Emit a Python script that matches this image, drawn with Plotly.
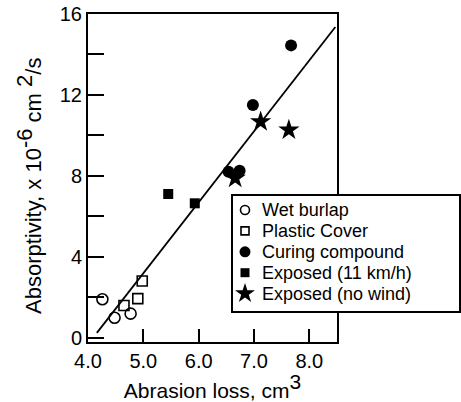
import plotly.graph_objects as go

# ---- data ----
wet_x = [4.26, 4.48, 4.77]
wet_y = [1.91, 1.0, 1.2]
plastic_x = [4.65, 4.90, 4.98]
plastic_y = [1.6, 1.94, 2.81]
curing_x = [6.54, 6.74, 6.98, 7.67]
curing_y = [8.21, 8.26, 11.51, 14.45]
exp11_x = [5.45, 5.93]
exp11_y = [7.11, 6.65]
nowind_x = [6.66, 7.12, 7.63]
nowind_y = [7.89, 10.68, 10.27]
fit_x = [4.16, 8.47]
fit_y = [0.25, 15.36]

series_names = ["Wet burlap", "Plastic Cover", "Curing compound",
                "Exposed (11 km/h)", "Exposed (no wind)"]

x_ticks = [4.0, 5.0, 6.0, 7.0, 8.0]
y_ticks = [0, 2, 4, 6, 8, 10, 12, 14, 16]
y_ticklabels = ["0", "", "4", "", "8", "", "12", "", "16"]

# ---- styles / layout ----
FONT = "Liberation Sans, Arial, sans-serif"
W, H = 461, 402
PL, PR, PT, PB = 88, 337, 14, 342          # plot box in pixels
symbols = ["circle-open", "square-open", "circle", "square", "star"]
plot_sizes = [11, 10, 12, 10, 16]
legend_sizes = [9, 8, 11, 9, 15]

# manual legend box (pixel layout)
LG_L, LG_R, LG_T, LG_B = 232, 460, 195, 312
LG_ROW0, LG_STEP = 210, 20.9
LG_SYM_X, LG_TXT_X = 245, 260

series_x = [wet_x, plastic_x, curing_x, exp11_x, nowind_x]
series_y = [wet_y, plastic_y, curing_y, exp11_y, nowind_y]

fig = go.Figure()
fig.add_trace(go.Scatter(x=fit_x, y=fit_y, mode="lines",
                         line=dict(color="black", width=1.8), showlegend=False))
for name, xs, ys, sym, sz in zip(series_names, series_x, series_y, symbols, plot_sizes):
    fig.add_trace(go.Scatter(x=xs, y=ys, mode="markers", name=name, showlegend=False,
                             marker=dict(symbol=sym, size=sz, color="black",
                                         line=dict(width=1.6 if "open" in sym else 0,
                                                   color="black"))))

# legend swatches on a full-page helper axis
annotations = []
for i, (name, sym, sz) in enumerate(zip(series_names, symbols, legend_sizes)):
    yy = LG_ROW0 + i * LG_STEP
    fig.add_trace(go.Scatter(x=[LG_SYM_X], y=[yy], xaxis="x2", yaxis="y2",
                             mode="markers", showlegend=False, hoverinfo="skip",
                             marker=dict(symbol=sym, size=sz, color="black",
                                         line=dict(width=1.6 if "open" in sym else 0,
                                                   color="black"))))
    annotations.append(dict(text=name, xref="x2", yref="y2", x=LG_TXT_X, y=yy,
                            xanchor="left", yanchor="middle", showarrow=False,
                            font=dict(size=18)))

annotations.append(dict(
    text='Absorptivity, x 10<sup><span style="font-size:22px">-6</span></sup> cm <sup><span style="font-size:22px">2</span></sup>/s',
    xref="x2", yref="y2", x=29, y=186, xanchor="center", yanchor="middle",
    textangle=-90, showarrow=False, font=dict(size=22)))

fig.update_layout(
    width=W, height=H,
    margin=dict(l=0, r=0, t=0, b=0),
    paper_bgcolor="white", plot_bgcolor="rgba(0,0,0,0)",
    font=dict(family=FONT, size=20, color="black"),
    showlegend=False,
    xaxis=dict(domain=[PL / W, PR / W], anchor="y", automargin=False,
               range=[4.0, 8.5], tickvals=x_ticks, tickformat=".1f",
               ticks="inside", ticklen=13, tickwidth=2, tickcolor="black",
               showline=True, linewidth=2, linecolor="black", mirror=True,
               showgrid=False, zeroline=False,
               title=dict(text='Abrasion loss, cm<sup><span style="font-size:21px">3</span></sup>',
                          font=dict(size=21), standoff=4)),
    yaxis=dict(domain=[(H - PB) / H, (H - PT) / H], anchor="x", automargin=False,
               range=[-0.2, 16], tickvals=y_ticks, ticktext=y_ticklabels,
               ticks="inside", ticklen=16, tickwidth=2, tickcolor="black",
               showline=True, linewidth=2, linecolor="black", mirror=True,
               showgrid=False, zeroline=False),
    xaxis2=dict(domain=[0, 1], anchor="y2", range=[0, W], visible=False, fixedrange=True),
    yaxis2=dict(domain=[0, 1], anchor="x2", range=[H, 0], visible=False, fixedrange=True),
    shapes=[dict(type="rect", xref="x2", yref="y2", x0=LG_L, x1=LG_R, y0=LG_T, y1=LG_B,
                 layer="below", fillcolor="white", line=dict(color="black", width=2))],
    annotations=annotations,
)

fig.write_html("out.html")
